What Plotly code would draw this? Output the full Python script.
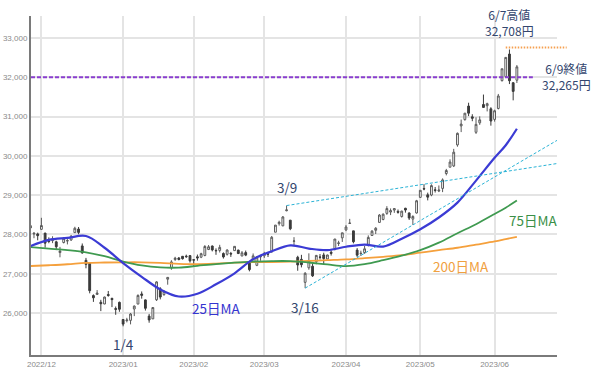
import plotly.graph_objects as go

# ---------------- data (Nikkei 225 daily OHLC, trading days) ----------------
DATES = [
    "2022-11-28", "2022-11-29", "2022-11-30",
    "2022-12-01", "2022-12-02", "2022-12-05", "2022-12-06", "2022-12-07", "2022-12-08", "2022-12-09",
    "2022-12-12", "2022-12-13", "2022-12-14", "2022-12-15", "2022-12-16", "2022-12-19", "2022-12-20",
    "2022-12-21", "2022-12-22", "2022-12-23", "2022-12-26", "2022-12-27", "2022-12-28", "2022-12-29",
    "2022-12-30",
    "2023-01-04", "2023-01-05", "2023-01-06", "2023-01-10", "2023-01-11", "2023-01-12", "2023-01-13",
    "2023-01-16", "2023-01-17", "2023-01-18", "2023-01-19", "2023-01-20", "2023-01-23", "2023-01-24",
    "2023-01-25", "2023-01-26", "2023-01-27", "2023-01-30", "2023-01-31",
    "2023-02-01", "2023-02-02", "2023-02-03", "2023-02-06", "2023-02-07", "2023-02-08", "2023-02-09",
    "2023-02-10", "2023-02-13", "2023-02-14", "2023-02-15", "2023-02-16", "2023-02-17", "2023-02-20",
    "2023-02-21", "2023-02-22", "2023-02-24", "2023-02-27", "2023-02-28",
    "2023-03-01", "2023-03-02", "2023-03-03", "2023-03-06", "2023-03-07", "2023-03-08", "2023-03-09",
    "2023-03-10", "2023-03-13", "2023-03-14", "2023-03-15", "2023-03-16", "2023-03-17", "2023-03-20",
    "2023-03-22", "2023-03-23", "2023-03-24", "2023-03-27", "2023-03-28", "2023-03-29", "2023-03-30",
    "2023-03-31",
    "2023-04-03", "2023-04-04", "2023-04-05", "2023-04-06", "2023-04-07", "2023-04-10", "2023-04-11",
    "2023-04-12", "2023-04-13", "2023-04-14", "2023-04-17", "2023-04-18", "2023-04-19", "2023-04-20",
    "2023-04-21", "2023-04-24", "2023-04-25", "2023-04-26", "2023-04-27", "2023-04-28",
    "2023-05-01", "2023-05-02", "2023-05-08", "2023-05-09", "2023-05-10", "2023-05-11", "2023-05-12",
    "2023-05-15", "2023-05-16", "2023-05-17", "2023-05-18", "2023-05-19", "2023-05-22", "2023-05-23",
    "2023-05-24", "2023-05-25", "2023-05-26", "2023-05-29", "2023-05-30", "2023-05-31",
    "2023-06-01", "2023-06-02", "2023-06-05", "2023-06-06", "2023-06-07", "2023-06-08", "2023-06-09",
]

OPEN = [
    28224, 28010, 28012,
    28129, 28033, 27832, 27842, 27811, 27538, 27794,
    27832, 27858, 28046, 28136, 27706, 27340, 27270,
    26443, 26472, 26272, 26229, 26469, 26370, 26112,
    26270,
    25834, 25805, 25812, 26101, 26227, 26484, 26333,
    25920, 25850, 26335, 26617, 26468, 26860, 27150,
    27360, 27400, 27443, 27447, 27460,
    27356, 27430, 27420, 27464, 27616, 27704, 27592,
    27593, 27514, 27494, 27515, 27587, 27600, 27451,
    27537, 27293, 27300, 27213, 27428,
    27456, 27500, 27554, 28056, 28273, 28218, 28603,
    28363, 27826, 27418, 27365, 26780, 27150, 27189,
    27305, 27423, 27477, 27375, 27545, 27636, 27770,
    27912,
    28115, 28279, 28090, 27600, 27513, 27537, 27718,
    27972, 28105, 28305, 28380, 28535, 28569, 28619,
    28586, 28456, 28665, 28546, 28390, 28546,
    28943, 29165, 29008, 29003, 29134, 29104, 29171,
    29550, 29711, 29743, 30278, 30762, 30922, 31267,
    30993, 30600, 30840, 31306, 31276, 31197,
    30927, 31206, 31915, 32020, 32591, 31860, 31926,
]

HIGH = [
    28249, 28060, 28045,
    28423, 28040, 27925, 27952, 27839, 27682, 27934,
    27881, 27986, 28195, 28188, 27769, 27402, 27290,
    26473, 26583, 26335, 26416, 26560, 26390, 26165,
    26290,
    25840, 25877, 26000, 26191, 26474, 26548, 26343,
    25976, 26149, 26806, 26656, 26569, 26911, 27343,
    27430, 27423, 27447, 27485, 27466,
    27369, 27487, 27533, 27727, 27729, 27717, 27645,
    27735, 27542, 27620, 27554, 27700, 27611, 27576,
    27589, 27311, 27515, 27446, 27479,
    27557, 27543, 27960, 28237, 28349, 28468, 28734,
    28363, 27930, 27456, 27480, 27040, 27518, 27261,
    27476, 27500, 27534, 27484, 27593, 27883, 27837,
    28041,
    28237, 28395, 28090, 27652, 27585, 27705, 27976,
    28109, 28185, 28516, 28535, 28719, 28661, 28672,
    28634, 28602, 28677, 28559, 28486, 28879,
    29123, 29278, 29063, 29275, 29207, 29246, 29426,
    29668, 29912, 30178, 30594, 30924, 31086, 31352,
    31059, 30980, 31005, 31560, 31352, 31238,
    31175, 31576, 32217, 32506, 32708, 31880, 32311,
]

LOW = [
    28092, 27903, 27850,
    28114, 27662, 27775, 27778, 27601, 27417, 27770,
    27745, 27835, 28046, 28004, 27512, 27137, 26500,
    26282, 26472, 26047, 26223, 26414, 26150, 25953,
    26030,
    25661, 25760, 25710, 25920, 26224, 26364, 26061,
    25752, 25846, 26305, 26346, 26437, 26720, 27100,
    27326, 27339, 27359, 27404, 27282,
    27198, 27331, 27396, 27443, 27601, 27568, 27480,
    27539, 27385, 27462, 27427, 27587, 27500, 27445,
    27446, 27060, 27284, 27192, 27329,
    27401, 27424, 27538, 28056, 28224, 28208, 28588,
    28108, 27700, 27075, 27160, 26632, 27100, 26917,
    27241, 27362, 27227, 27364, 27461, 27593, 27706,
    27808,
    28084, 28265, 27772, 27427, 27451, 27506, 27693,
    27971, 28010, 28304, 28359, 28498, 28492, 28549,
    28529, 28428, 28554, 28367, 28241, 28530,
    28930, 29124, 28866, 28972, 29066, 29077, 29076,
    29503, 29711, 29715, 30232, 30605, 30896, 31012,
    30882, 30558, 30789, 31256, 31131, 30768,
    30871, 31182, 31891, 31995, 31827, 31413, 31855,
]

CLOSE = [
    28162, 28027, 27968,
    28226, 27777, 27820, 27885, 27686, 27574, 27901,
    27842, 27954, 28156, 28051, 27527, 27237, 26568,
    26387, 26507, 26235, 26405, 26447, 26340, 26093,
    26094,
    25716, 25820, 25973, 26175, 26446, 26449, 26119,
    25822, 26138, 26791, 26405, 26553, 26906, 27299,
    27395, 27362, 27382, 27433, 27327,
    27346, 27402, 27509, 27693, 27685, 27606, 27584,
    27670, 27427, 27602, 27501, 27696, 27513, 27531,
    27473, 27104, 27453, 27423, 27445,
    27516, 27498, 27927, 28237, 28309, 28444, 28623,
    28143, 27832, 27222, 27229, 27010, 27333, 26945,
    27466, 27419, 27385, 27476, 27518, 27883, 27782,
    28041,
    28188, 28287, 27813, 27472, 27518, 27633, 27923,
    28082, 28157, 28493, 28514, 28658, 28606, 28657,
    28564, 28593, 28620, 28416, 28457, 28856,
    29123, 29157, 28949, 29242, 29122, 29126, 29388,
    29626, 29842, 30093, 30573, 30808, 31086, 31086,
    30957, 30801, 30916, 31233, 31328, 30887,
    31148, 31524, 32217, 32506, 31913, 31641, 32265,
]

MA_DATES = [
    "2022-11-28", "2022-12-05", "2022-12-12", "2022-12-19", "2022-12-26", "2023-01-04", "2023-01-12",
    "2023-01-19", "2023-01-26", "2023-02-02", "2023-02-09", "2023-02-16", "2023-02-24", "2023-03-03",
    "2023-03-10", "2023-03-17", "2023-03-27", "2023-04-03", "2023-04-10", "2023-04-17", "2023-04-24",
    "2023-05-01", "2023-05-11", "2023-05-18", "2023-05-25", "2023-06-01", "2023-06-06", "2023-06-09",
]
MA25 = [27700, 27860, 27910, 27960, 27660, 27270, 26920, 26600, 26420, 26490, 26730, 27010, 27370, 27570,
        27720, 27640, 27600, 27685, 27740, 27690, 27890, 28130, 28430, 28810, 29370, 29950, 30270, 30690]
MA75 = [27680, 27640, 27600, 27545, 27445, 27310, 27210, 27160, 27155, 27200, 27245, 27280, 27305, 27320,
        27320, 27285, 27235, 27195, 27245, 27345, 27460, 27600, 27790, 28030, 28260, 28520, 28680, 28860]
MA200 = [27195, 27215, 27240, 27275, 27285, 27290, 27290, 27275, 27250, 27240, 27255, 27280, 27295, 27295,
         27305, 27325, 27345, 27365, 27395, 27430, 27470, 27535, 27600, 27660, 27740, 27820, 27880, 27940]

# Trend lines (anchor date, price)
TREND_UP_DATES = ["2023-03-09", "2023-05-02"]
TREND_UP_VALS = [28734, 29278]
TREND_LO_DATES = ["2023-03-16", "2023-04-27"]
TREND_LO_VALS = [26632, 28241]

MONTH_TICK_DATES = ["2022-12-01", "2023-01-04", "2023-02-01", "2023-03-01", "2023-04-03", "2023-05-01", "2023-06-01"]
MONTH_TICK_TEXT = ["2022/12", "2023/01", "2023/02", "2023/03", "2023/04", "2023/05", "2023/06"]
Y_TICKS = [26000, 27000, 28000, 29000, 30000, 31000, 32000, 33000]

LEVEL_LINE = 32000        # purple dashed level
HIGH_LINE = 32760         # orange dotted level (6/7 high)

# ---------------- figure ----------------
IDX = {d: i for i, d in enumerate(DATES)}
XS = list(range(len(DATES)))
X0, X1 = 0.2, 141.8
Y0, Y1 = 24930, 33560

def px(i):
    return (i - X0) / (X1 - X0)

def py(v):
    return (v - Y0) / (Y1 - Y0)

fig = go.Figure()

fig.add_trace(go.Candlestick(
    x=XS, open=OPEN, high=HIGH, low=LOW, close=CLOSE,
    increasing=dict(line=dict(color="#5a5a5a", width=1), fillcolor="white"),
    decreasing=dict(line=dict(color="#3a3a3a", width=1), fillcolor="#3a3a3a"),
    whiskerwidth=0, hoverinfo="skip",
))

ma_x = [IDX[d] for d in MA_DATES]
for vals, col, w in [(MA200, "#f5a03c", 1.8), (MA75, "#3f9a50", 1.8), (MA25, "#3b3bd4", 2.2)]:
    fig.add_trace(go.Scatter(x=ma_x, y=vals, mode="lines",
                             line=dict(color=col, width=w, shape="spline", smoothing=1.0),
                             hoverinfo="skip"))

for dates, vals in [(TREND_UP_DATES, TREND_UP_VALS), (TREND_LO_DATES, TREND_LO_VALS)]:
    xa, xb = IDX[dates[0]], IDX[dates[1]]
    slope = (vals[1] - vals[0]) / (xb - xa)
    fig.add_trace(go.Scatter(x=[xa, X1], y=[vals[0], vals[0] + slope * (X1 - xa)], mode="lines",
                             line=dict(color="#2bb3d6", width=1, dash="3px,2px"), hoverinfo="skip"))

# purple dashed level line
fig.add_shape(type="line", xref="x", yref="y", x0=X0, x1=IDX["2023-06-09"] + 4.3,
              y0=LEVEL_LINE, y1=LEVEL_LINE, line=dict(color="#8a3fd0", width=2, dash="4px,2px"))
# orange dotted high line
fig.add_shape(type="line", xref="paper", yref="paper", x0=px(IDX["2023-06-06"]), x1=px(IDX["2023-06-09"] + 13.4),
              y0=py(HIGH_LINE), y1=py(HIGH_LINE), line=dict(color="#f5a050", width=2, dash="1.5px,1.5px"))

TXT = "#33466e"
FONT = "Noto Sans CJK JP"
ann = [
    dict(x=IDX["2023-06-07"], y=33390, text="6/7高値<br>32,708円", color=TXT, size=12),
    dict(x=IDX["2023-03-09"], y=29205, text="3/9", color=TXT, size=13.5),
    dict(x=IDX["2023-03-16"], y=26150, text="3/16", color=TXT, size=13.5),
    dict(x=IDX["2023-01-04"], y=25210, text="1/4", color=TXT, size=13.5),
    dict(x=50, y=26130, text="25日MA", color="#3434d0", size=13.5),
    dict(x=IDX["2023-06-09"] + 4.3, y=28360, text="75日MA", color="#3a8f47", size=13.5),
    dict(x=IDX["2023-05-18"] + 1, y=27195, text="200日MA", color="#f0a040", size=13.5),
]
for a in ann:
    fig.add_annotation(x=a["x"], y=a["y"], xref="x", yref="y", text=a["text"], showarrow=False,
                       font=dict(family=FONT, size=a["size"], color=a["color"]), xanchor="center", yanchor="middle")
fig.add_annotation(x=px(IDX["2023-06-09"] + 13.4), y=py(32030), xref="paper", yref="paper",
                   text="6/9終値<br>32,265円", showarrow=False,
                   font=dict(family=FONT, size=12, color=TXT), xanchor="center", yanchor="middle")

fig.update_layout(
    width=600, height=372,
    margin=dict(l=31, r=43, t=16, b=17, autoexpand=False),
    paper_bgcolor="white", plot_bgcolor="white",
    showlegend=False,
    xaxis=dict(range=[X0, X1], tickvals=[IDX[d] for d in MONTH_TICK_DATES], ticktext=MONTH_TICK_TEXT,
               showgrid=True, gridcolor="#e4e4e4", gridwidth=1.5, showline=True, linecolor="#7a7a7a",
               linewidth=2, ticks="", zeroline=False, rangeslider=dict(visible=False), automargin=False,
               tickfont=dict(family="Liberation Sans", size=8, color="#8a8a8a"), fixedrange=True),
    yaxis=dict(range=[Y0, Y1], tickvals=Y_TICKS, tickformat=",d", showgrid=True, gridcolor="#e4e4e4",
               gridwidth=1.5, showline=True, linecolor="#7a7a7a", linewidth=2, ticks="", zeroline=False,
               automargin=False,
               tickfont=dict(family="Liberation Sans", size=8, color="#8a8a8a"), fixedrange=True),
)

fig.write_html("out.html", config={"displayModeBar": False},
               post_script="document.body.style.margin='0';document.body.style.overflow='hidden';")
